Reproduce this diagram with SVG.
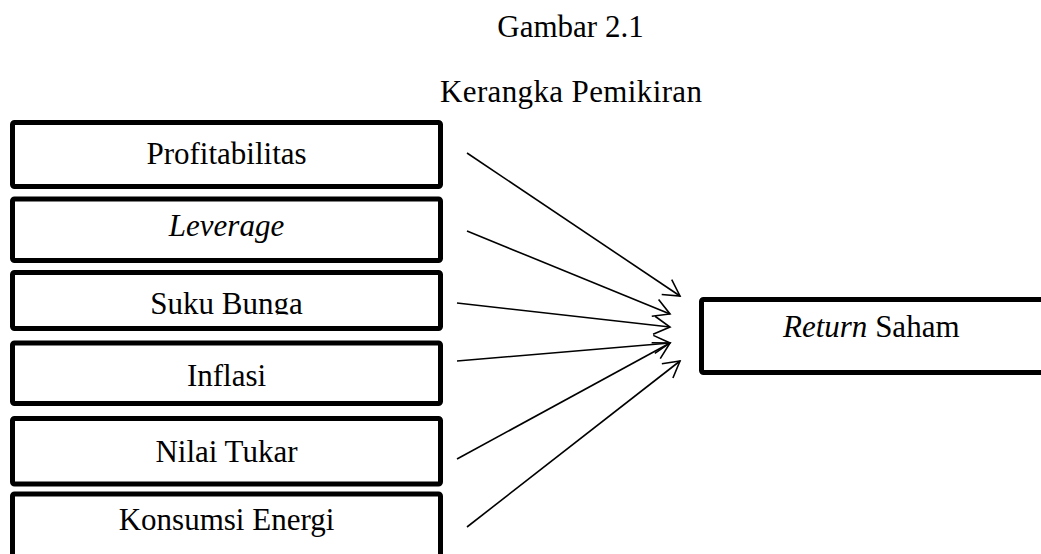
<svg xmlns="http://www.w3.org/2000/svg" width="1041" height="554" viewBox="0 0 1041 554">
<style>
.box{fill:#fff;stroke:#000;stroke-width:5;stroke-linejoin:round}
.t{font-family:"Liberation Serif","Times New Roman",serif;font-size:31px;fill:#000}
.c{text-anchor:middle}
.i{font-style:italic}
.arr{stroke:#000;stroke-width:1.6;fill:none;marker-end:url(#ah)}
</style>
<defs>
<marker id="ah" markerUnits="userSpaceOnUse" markerWidth="40" markerHeight="40" viewBox="-20 -20 40 40" refX="0" refY="0" orient="auto" overflow="visible">
<path d="M-16,-9 L0,0 L-16,9" fill="none" stroke="#000" stroke-width="1.6"/>
</marker>
<clipPath id="clipSuku"><rect x="15" y="275" width="423" height="39.5"/></clipPath>
</defs>
<rect width="1041" height="554" fill="#fff"/>
<g id="title">
<text class="t c" x="570.5" y="37">Gambar 2.1</text>
<text class="t c" x="571" y="102" textLength="262">Kerangka Pemikiran</text>
</g>
<g id="n-profitabilitas">
<rect class="box" x="12.5" y="122.5" width="428" height="64" rx="2"/>
<text class="t c" x="226.5" y="164">Profitabilitas</text>
</g>
<g id="n-leverage">
<rect class="box" x="12.5" y="199" width="428" height="61.5" rx="2"/>
<text class="t c i" x="226.5" y="236">Leverage</text>
</g>
<g id="n-sukubunga">
<rect class="box" x="12.5" y="272.5" width="428" height="56" rx="2"/>
<text class="t c" x="226.5" y="314" clip-path="url(#clipSuku)">Suku Bunga</text>
</g>
<g id="n-inflasi">
<rect class="box" x="12.5" y="343" width="428" height="60.5" rx="2"/>
<text class="t c" x="226.5" y="386">Inflasi</text>
</g>
<g id="n-nilaitukar">
<rect class="box" x="12.5" y="418.5" width="428" height="65.5" rx="2"/>
<text class="t c" x="226.5" y="462">Nilai Tukar</text>
</g>
<g id="n-konsumsi">
<rect class="box" x="12.5" y="494" width="428" height="80" rx="2"/>
<text class="t c" x="226.5" y="530">Konsumsi Energi</text>
</g>
<g id="n-return">
<rect class="box" x="701.5" y="299.5" width="360" height="73" rx="2"/>
<text class="t" x="783" y="337"><tspan class="i">Return</tspan> Saham</text>
</g>
<g id="connectors">
<line class="arr" x1="467" y1="153" x2="680" y2="296"/>
<line class="arr" x1="467" y1="231" x2="670" y2="314"/>
<line class="arr" x1="457" y1="303" x2="670" y2="327"/>
<line class="arr" x1="457" y1="361" x2="670" y2="343"/>
<line class="arr" x1="457" y1="459" x2="670" y2="343"/>
<line class="arr" x1="467" y1="527" x2="680" y2="361"/>
</g>
</svg>
